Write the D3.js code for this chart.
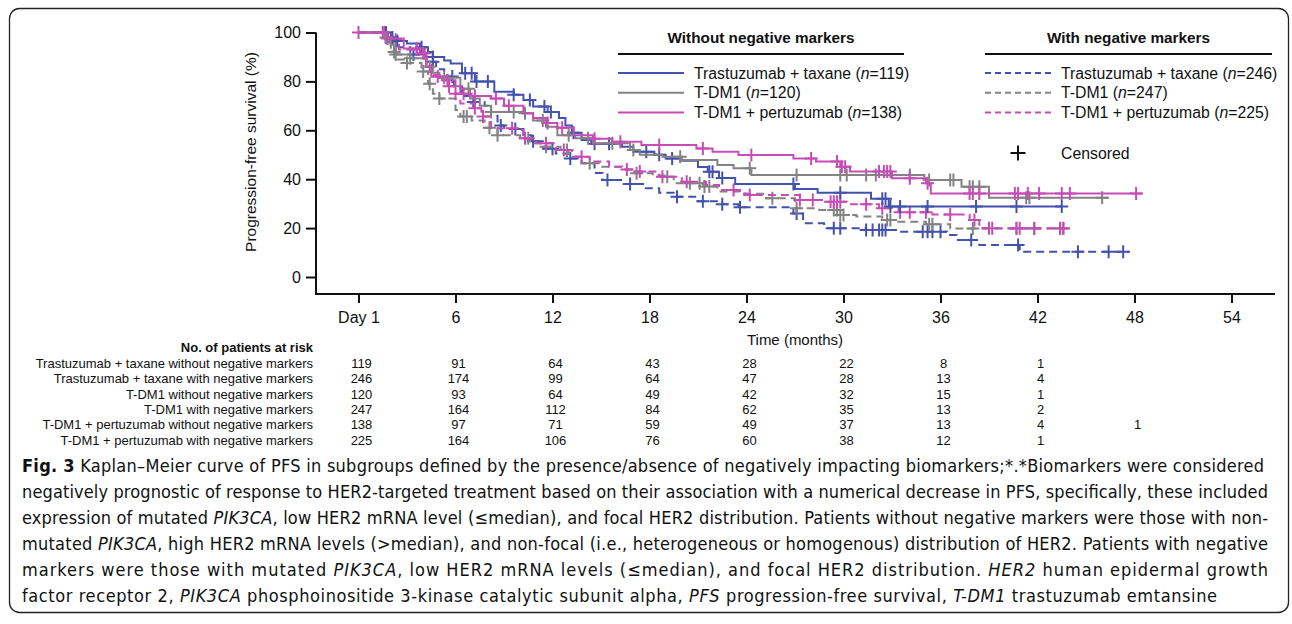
<!DOCTYPE html>
<html>
<head>
<meta charset="utf-8">
<script src="https://cdn.jsdelivr.net/npm/d3@7"></script>
<style>
body { margin: 0; background: #fff; }
svg text { font-family: "Liberation Sans", Arial, sans-serif; fill: #111; }
.cap text { font-family: "Liberation Sans Narrow", "DejaVu Sans Condensed", sans-serif; }
</style>
</head>
<body>
<div id="chart"></div>
<script>
// Kaplan-Meier PFS by negative marker status

var WIDTH = 1292;
var HEIGHT = 624;

var monthTicks = [0, 6, 12, 18, 24, 30, 36, 42, 48, 54];
var pfsTicks = [0, 20, 40, 60, 80, 100];

// step data: [month, PFS %] after each drop
var taxWithoutSteps = [[0,100],[1.8,98],[2.2,96.5],[3.0,95.5],[3.8,94],[4.3,92],[4.6,90],[5.3,88.5],[5.7,87.3],
    [6.4,83.3],[7.2,80],[8.4,75.8],[9.6,74.5],[10.2,72.4],[10.8,69.7],[11.7,67.5],[12.4,65],[12.8,62],[13.2,59],
    [13.8,56],[14.4,54.5],[16.3,53.3],[17.0,51.2],[18.3,50],[19.0,48.5],[19.9,47.5],[21.0,45],[21.6,43],[22.3,40.5],
    [23.3,38],[27.0,36],[28.4,34.5],[31.7,32],[32.8,28.8]];
var taxWithoutCens = [1.7,2.1,2.4,3.9,4.6,6.6,7.0,7.3,8.0,9.6,10.6,11.5,11.9,13.3,14.6,15.5,17.8,18.6,19.4,21.7,21.9,
    22.5,26.9,29.8,32.4,32.6,32.9,33.5,35.2,38.2,40.7,43.5];
var taxWithoutEnd = 43.5;

var tdm1WithoutSteps = [[0,100],[1.6,98],[2.0,95],[2.3,91],[3.2,89.5],[4.2,86],[4.6,83.5],[5.0,81.5],[6.3,77],
    [6.9,73],[7.5,70],[8.2,67.5],[10.2,67],[10.8,64],[11.6,61.5],[12.3,58],[13.4,56.7],[14.5,54.7],[16.8,51.9],
    [17.4,50],[18.8,49.2],[20.0,47.9],[22.2,45.8],[23.2,44.5],[24.3,41.7],[35.0,39.7],[37.3,36.9],[39.0,32.4]];
var tdm1WithoutCens = [1.7,2.3,3.2,4.4,5.3,6.8,8.2,9.6,10.3,11.4,13.0,14.2,15.7,17.0,19.9,24.2,27.1,29.8,30.2,31.4,
    32.0,34.1,35.3,36.6,36.8,37.8,38.0,38.4,41.3,41.5,46.0];
var tdm1WithoutEnd = 46.4;

var perWithoutSteps = [[0,100],[1.8,97.5],[2.8,93.5],[3.8,91.5],[4.2,86],[4.5,82],[5.2,80.5],[6.0,78],[6.3,75],
    [7.0,74],[8.2,73],[9.0,70],[10.2,67],[10.8,65],[11.6,63],[12.3,61],[13.3,58],[14.5,56.5],[15.7,55.3],[17.5,54],
    [20.9,52.6],[21.9,51.2],[23.5,49.9],[26.9,48.5],[28.3,47.2],[29.8,45.1],[30.4,43.1],[33.0,40.4],[35.1,38.3],
    [35.4,34.2]];
var perWithoutCens = [0,1.5,1.8,3.6,4.0,4.9,5.5,6.5,7.2,8.5,9.3,11.7,12.6,14.6,16.2,18.6,21.3,24.3,28.0,29.6,29.9,
    30.1,32.2,32.5,32.7,32.9,34.1,35.2,37.8,38.0,38.4,40.6,40.8,41.4,42.1,43.5,44.0,48.1];
var perWithoutEnd = 48.5;

var taxWithSteps = [[0,100],[1.8,97],[2.5,94],[3.2,91],[4.2,88],[4.8,85],[5.3,82],[5.9,78],[6.4,74],[7.0,71.6],
    [7.8,70],[8.2,66],[8.6,62],[9.0,60.5],[10.2,58],[10.7,55.5],[11.4,52.5],[12.2,50.5],[12.9,48.5],[13.8,46.5],
    [14.6,42.5],[15.1,39.7],[16.4,38],[17.6,36.3],[18.6,34.5],[19.5,32.8],[21.0,31],[22.5,29.8],[23.5,28.5],
    [26.9,26],[27.5,22],[28.8,19.9],[31.4,19.2],[33.5,18.5],[36.4,17.2],[37.0,15.1],[38.4,13.1],[40.9,10.3]];
var taxWithCens = [2.0,3.4,4.6,5.8,7.1,8.8,9.7,10.8,12.0,13.1,15.4,16.8,19.7,21.3,22.5,23.6,27.1,29.4,29.8,31.4,31.8,
    32.2,32.4,32.6,34.9,35.2,35.5,36.0,37.9,40.8,44.5,46.4,47.3];
var taxWithEnd = 47.7;

var tdm1WithSteps = [[0,100],[1.8,96],[2.1,92],[2.4,89],[3.0,87.5],[3.9,84],[4.3,79],[4.6,75],[5.0,73],[6.0,68.3],
    [6.3,65.6],[7.0,64],[7.8,61],[8.6,58],[10.0,56.7],[10.6,54.7],[11.5,53.3],[12.5,51.9],[13.0,49.2],[13.8,46.5],
    [14.9,45.1],[16.3,44],[17.0,42.4],[18.2,41.5],[19.0,41],[19.5,38.3],[21.3,37],[22.2,35],[23.6,34],[25.2,32.2],
    [27.0,28.1],[28.5,27.4],[29.8,25.4],[30.8,24.7],[32.4,23.3],[33.2,22.6],[35.1,21.6],[36.6,19.8]];
var tdm1WithCens = [2.0,2.2,3.0,4.0,4.4,5.0,6.5,6.7,8.1,8.6,10.5,11.6,12.9,14.3,17.2,19.1,20.5,21.1,21.4,21.7,25.6,
    27.1,29.4,29.6,29.8,30.0,32.7,32.9,35.3,35.5,38.0,40.7,41.8,43.4,43.6];
var tdm1WithEnd = 44;

var perWithSteps = [[0,100],[1.8,97],[2.5,93],[3.8,91.5],[4.2,87.4],[4.5,82.6],[5.5,78],[6.0,75],[6.3,71],[7.2,69],
    [7.6,65.6],[8.2,60.8],[9.8,60.1],[10.2,56.7],[11.0,54.7],[12.2,51.9],[13.2,49.2],[14.3,47.2],[15.5,45.1],
    [16.3,44],[17.0,43.1],[18.6,41],[20.0,39],[21.5,37.6],[22.3,35.6],[23.6,34.2],[24.0,33.5],[27.3,31.5],
    [28.8,30.8],[30.2,29.8],[32.2,28.1],[33.4,26.5],[35.5,25.6],[37.8,23.3],[38.4,19.9]];
var perWithCens = [1.6,2.3,3.6,4.1,5.6,6.0,7.2,7.7,9.5,10.3,11.6,12.7,13.8,16.6,17.4,18.8,20.3,23.2,24.2,27.3,28.1,
    29.2,29.4,29.6,29.8,31.4,32.4,33.5,34.1,35.1,36.6,38.1,39.0,39.2,40.7,40.9,41.8,43.4,43.6];
var perWithEnd = 43.6;

var riskLabels = [
    "Trastuzumab + taxane without negative markers",
    "Trastuzumab + taxane with negative markers",
    "T-DM1 without negative markers",
    "T-DM1 with negative markers",
    "T-DM1 + pertuzumab without negative markers",
    "T-DM1 + pertuzumab with negative markers"
];
var riskCounts = [
    [119, 91, 64, 43, 28, 22, 8, 1],
    [246, 174, 99, 64, 47, 28, 13, 4],
    [120, 93, 64, 49, 42, 32, 15, 1],
    [247, 164, 112, 84, 62, 35, 13, 2],
    [138, 97, 71, 59, 49, 37, 13, 4, 1],
    [225, 164, 106, 76, 60, 38, 12, 1]
];

var legendWithout = [["Trastuzumab + taxane (", "=119)"], ["T-DM1 (", "=120)"], ["T-DM1 + pertuzumab (", "=138)"]];
var legendWith = [["Trastuzumab + taxane (", "=246)"], ["T-DM1 (", "=247)"], ["T-DM1 + pertuzumab (", "=225)"]];

var BLUE = "#4353ad";
var GREY = "#838383";
var PINK = "#c74db6";
var DASH = "8,5";

var series = [
    { steps: taxWithSteps, cens: taxWithCens, end: taxWithEnd, color: BLUE, dash: DASH },
    { steps: tdm1WithSteps, cens: tdm1WithCens, end: tdm1WithEnd, color: GREY, dash: DASH },
    { steps: perWithSteps, cens: perWithCens, end: perWithEnd, color: PINK, dash: DASH },
    { steps: taxWithoutSteps, cens: taxWithoutCens, end: taxWithoutEnd, color: BLUE, dash: null },
    { steps: tdm1WithoutSteps, cens: tdm1WithoutCens, end: tdm1WithoutEnd, color: GREY, dash: null },
    { steps: perWithoutSteps, cens: perWithoutCens, end: perWithoutEnd, color: PINK, dash: null }
];

var x = d3.scaleLinear().domain([0, 54]).range([358.5, 1231.5]);
var y = d3.scaleLinear().domain([0, 100]).range([277, 32.5]);

var AXIS_X = 316;
var AXIS_Y = 294;

var svg = d3.select("#chart").append("svg")
    .attr("width", WIDTH)
    .attr("height", HEIGHT);

// frame
svg.append("rect")
    .attr("x", 9.5).attr("y", 8.5)
    .attr("width", 1279).attr("height", 604)
    .attr("rx", 10)
    .attr("fill", "none")
    .attr("stroke", "#222")
    .attr("stroke-width", 1.3);

// axes
var yAxis = d3.axisLeft(y).tickValues(pfsTicks).tickSize(10).tickPadding(5).tickSizeOuter(0);
var gy = svg.append("g").attr("transform", "translate(" + AXIS_X + ",0)").call(yAxis);
gy.select(".domain").remove();
gy.selectAll("line").attr("stroke", "#111").attr("stroke-width", 2);
gy.selectAll("text").attr("font-size", 16).attr("fill", "#111");

var xAxis = d3.axisBottom(x).tickValues(monthTicks).tickSize(9).tickPadding(9).tickSizeOuter(0)
    .tickFormat(function(d) { return d == 0 ? "Day 1" : d; });
var gx = svg.append("g").attr("transform", "translate(0," + AXIS_Y + ")").call(xAxis);
gx.select(".domain").remove();
gx.selectAll("line").attr("stroke", "#111").attr("stroke-width", 2);
gx.selectAll("text").attr("font-size", 16).attr("fill", "#111");

svg.append("path")
    .attr("d", "M" + AXIS_X + "," + y(100) + "V" + AXIS_Y + "H1275")
    .attr("fill", "none")
    .attr("stroke", "#111")
    .attr("stroke-width", 2);

svg.append("text")
    .attr("transform", "translate(256,152) rotate(-90)")
    .attr("text-anchor", "middle")
    .attr("font-size", 15.5)
    .text("Progression-free survival (%)");

svg.append("text")
    .attr("x", 795).attr("y", 345)
    .attr("text-anchor", "middle")
    .attr("font-size", 15)
    .text("Time (months)");

// curves
var line = d3.line()
    .x(function(d) { return x(d[0]); })
    .y(function(d) { return y(d[1]); })
    .curve(d3.curveStepAfter);

function survAt(steps, t) {
    var s = 100;
    steps.forEach(function(p) { if (p[0] <= t) s = p[1]; });
    return s;
}

function plus(cx, cy, h) {
    return "M" + (cx - h) + "," + cy + "h" + (2 * h) + "M" + cx + "," + (cy - h) + "v" + (2 * h);
}

series.forEach(function(s) {
    var pts = s.steps.concat([[s.end, s.steps[s.steps.length - 1][1]]]);
    var g = svg.append("g");
    g.append("path")
        .attr("d", line(pts))
        .attr("fill", "none")
        .attr("stroke", s.color)
        .attr("stroke-width", 2)
        .attr("stroke-dasharray", s.dash);
    g.append("path")
        .attr("d", s.cens.map(function(t) { return plus(x(t), y(survAt(s.steps, t)), 6.5); }).join(""))
        .attr("fill", "none")
        .attr("stroke", s.color)
        .attr("stroke-width", 2);
});

// legend
function legendBlock(x0, x1, title, entries, dash) {
    var g = svg.append("g");
    g.append("text")
        .attr("x", (x0 + x1) / 2).attr("y", 38)
        .attr("dy", "0.35em")
        .attr("text-anchor", "middle")
        .attr("font-size", 15.3)
        .attr("font-weight", "bold")
        .text(title);
    g.append("line")
        .attr("x1", x0).attr("x2", x1)
        .attr("y1", 54).attr("y2", 54)
        .attr("stroke", "#111").attr("stroke-width", 2);
    var colors = [BLUE, GREY, PINK];
    entries.forEach(function(e, i) {
        var ly = 73 + i * 19.8;
        g.append("line")
            .attr("x1", x0).attr("x2", x0 + 66)
            .attr("y1", ly).attr("y2", ly)
            .attr("stroke", colors[i]).attr("stroke-width", 2)
            .attr("stroke-dasharray", dash);
        var t = g.append("text")
            .attr("x", x0 + 76).attr("y", ly)
            .attr("dy", "0.35em")
            .attr("font-size", 15.8);
        t.append("tspan").text(e[0]);
        t.append("tspan").attr("font-style", "italic").text("n");
        t.append("tspan").text(e[1]);
    });
}
legendBlock(618, 904, "Without negative markers", legendWithout, null);
legendBlock(985, 1272, "With negative markers", legendWith, "6,4");

svg.append("path")
    .attr("d", plus(1018, 153, 7.5))
    .attr("stroke", "#111").attr("stroke-width", 2);
svg.append("text")
    .attr("x", 1061).attr("y", 153)
    .attr("dy", "0.35em")
    .attr("font-size", 15.8)
    .text("Censored");

// risk table
svg.append("text")
    .attr("x", 313).attr("y", 347)
    .attr("dy", "0.35em")
    .attr("text-anchor", "end")
    .attr("font-size", 13)
    .attr("font-weight", "bold")
    .text("No. of patients at risk");

riskLabels.forEach(function(lab, i) {
    var ry = 363.3 + i * 15.4;
    svg.append("text")
        .attr("x", 313).attr("y", ry)
        .attr("dy", "0.35em")
        .attr("text-anchor", "end")
        .attr("font-size", 13)
        .text(lab);
    riskCounts[i].forEach(function(n, j) {
        svg.append("text")
            .attr("x", x(monthTicks[j]) + 3).attr("y", ry)
            .attr("dy", "0.35em")
            .attr("text-anchor", "middle")
            .attr("font-size", 13)
            .text(n);
    });
});

// caption
var captionLines = [
    [["b", "Fig. 3"], ["", " Kaplan–Meier curve of PFS in subgroups defined by the presence/absence of negatively impacting biomarkers;*.*Biomarkers were considered"]],
    [["", "negatively prognostic of response to HER2-targeted treatment based on their association with a numerical decrease in PFS, specifically, these included"]],
    [["", "expression of mutated "], ["i", "PIK3CA"], ["", ", low HER2 mRNA level (≤median), and focal HER2 distribution. Patients without negative markers were those with non-"]],
    [["", "mutated "], ["i", "PIK3CA"], ["", ", high HER2 mRNA levels (>median), and non-focal (i.e., heterogeneous or homogenous) distribution of HER2. Patients with negative"]],
    [["", "markers were those with mutated "], ["i", "PIK3CA"], ["", ", low HER2 mRNA levels (≤median), and focal HER2 distribution. "], ["i", "HER2"], ["", " human epidermal growth"]],
    [["", "factor receptor 2, "], ["i", "PIK3CA"], ["", " phosphoinositide 3-kinase catalytic subunit alpha, "], ["i", "PFS"], ["", " progression-free survival, "], ["i", "T-DM1"], ["", " trastuzumab emtansine"]]
];
var captionEnds = [1264, 1268, 1268, 1268, 1268, 1217];

var cap = svg.append("g").attr("class", "cap");
captionLines.forEach(function(segs, i) {
    var t = cap.append("text")
        .attr("x", 22).attr("y", 472 + i * 26)
        .attr("font-size", 18)
        .attr("textLength", captionEnds[i] - 22)
        .attr("lengthAdjust", "spacing");
    segs.forEach(function(s) {
        var ts = t.append("tspan").text(s[1]);
        if (s[0] == "b") ts.attr("font-weight", "bold");
        if (s[0] == "i") ts.attr("font-style", "italic");
    });
});
</script>
</body>
</html>
